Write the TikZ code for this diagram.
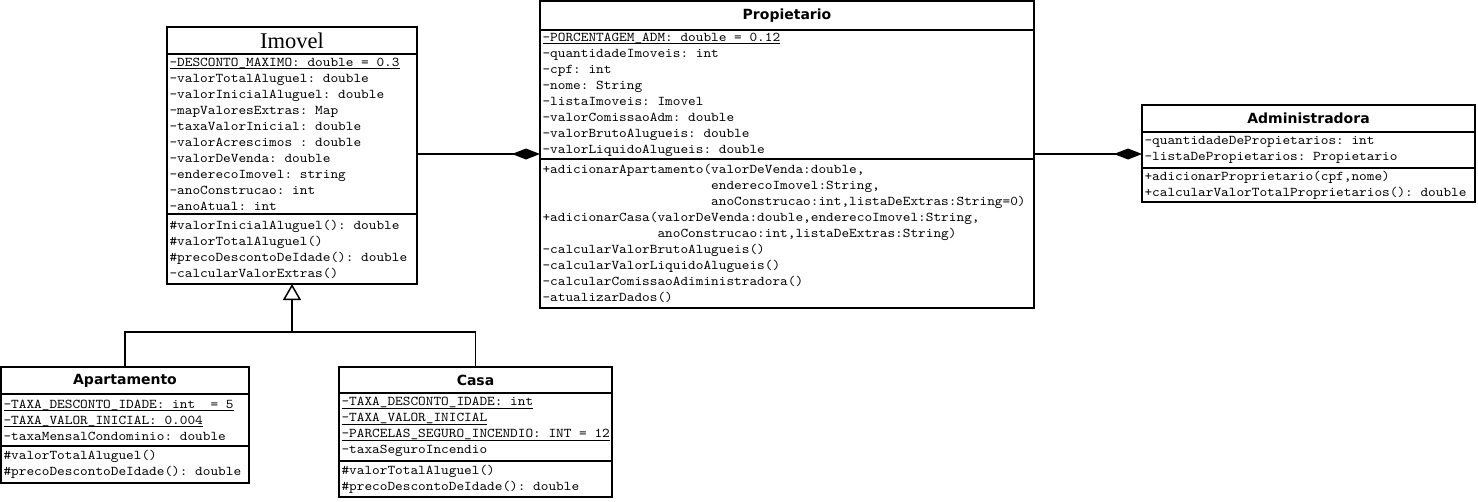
\documentclass[tikz,border=0pt]{standalone}
\usepackage{fontspec}
\setmainfont{Liberation Serif}
\setmonofont{lmmono10-regular}[Extension=.otf, FakeStretch=1.09]
\newfontfamily\headfont{DejaVu Sans}
\usetikzlibrary{positioning,arrows.meta}
\newcommand\codefont{\ttfamily\fontsize{13.4}{16}\selectfont\frenchspacing}
\newcommand\monospaced{\codefont\spaceskip=\fontcharwd\font`\a\relax\xspaceskip=\spaceskip}
\newcommand\classvar[1]{\leavevmode\setbox0=\hbox{#1}\rlap{\rule[-3pt]{\wd0}{0.8pt}}\box0}
\begin{document}
\begin{tikzpicture}[
  x=1pt, y=-1pt,
  line width=1.5pt,
  every node/.style={outer sep=0pt},
  classname/.style={
    draw,
    anchor=north west,
    align=center,
    inner sep=0pt,
    font=\headfont\bfseries\fontsize{14}{16}\selectfont
  },
  members/.style={
    draw,
    align=left,
    inner xsep=2.5pt,
    inner ysep=0pt,
    font=\codefont,
    execute at begin node=\monospaced
  },
  compose/.style={-{Diamond[length=28pt,width=11pt]}},
  inherit/.style={-{Triangle[open,length=16pt,width=18pt,fill=white]}}
]
\useasboundingbox (0,0) rectangle (1478,501);

\node[classname, minimum width=250pt, minimum height=27pt,
  font=\rmfamily\fontsize{22.5}{24}\selectfont] (imovel) at (167,27) {Imovel};
\node[members, text width=245pt, minimum height=160pt, below=0pt of imovel] (imovel-attr) {%
  \classvar{-DESCONTO\_MAXIMO: double = 0.3}\\
  -valorTotalAluguel: double\\
  -valorInicialAluguel: double\\
  -mapValoresExtras: Map\\
  -taxaValorInicial: double\\
  -valorAcrescimos : double\\
  -valorDeVenda: double\\
  -enderecoImovel: string\\
  -anoConstrucao: int\\
  -anoAtual: int};
\node[members, text width=245pt, minimum height=70pt, below=0pt of imovel-attr] (imovel-ops) {%
  \#valorInicialAluguel(): double\\
  \#valorTotalAluguel()\\
  \#precoDescontoDeIdade(): double\\
  -calcularValorExtras()};

\node[classname, minimum width=494pt, minimum height=29pt] (prop) at (540,1) {Propietario};
\node[members, text width=489pt, minimum height=129pt, below=0pt of prop] (prop-attr) {%
  \classvar{-PORCENTAGEM\_ADM: double = 0.12}\\
  -quantidadeImoveis: int\\
  -cpf: int\\
  -nome: String\\
  -listaImoveis: Imovel\\
  -valorComissaoAdm: double\\
  -valorBrutoAlugueis: double\\
  -valorLiquidoAlugueis: double};
\node[members, text width=489pt, minimum height=149pt, below=0pt of prop-attr] (prop-ops) {%
  +adicionarApartamento(valorDeVenda:double,\\
  \hphantom{+adicionarApartamento(}enderecoImovel:String,\\
  \hphantom{+adicionarApartamento(}anoConstrucao:int,listaDeExtras:String=0)\\
  +adicionarCasa(valorDeVenda:double,enderecoImovel:String,\\
  \hphantom{+adicionarCasa(}anoConstrucao:int,listaDeExtras:String)\\
  -calcularValorBrutoAlugueis()\\
  -calcularValorLiquidoAlugueis()\\
  -calcularComissaoAdiministradora()\\
  -atualizarDados()};

\node[classname, minimum width=333pt, minimum height=27pt] (admin) at (1142,105) {Administradora};
\node[members, text width=328pt, minimum height=36pt, below=0pt of admin] (admin-attr) {%
  -quantidadeDePropietarios: int\\
  -listaDePropietarios: Propietario};
\node[members, text width=328pt, minimum height=34pt, below=0pt of admin-attr] (admin-ops) {%
  +adicionarProprietario(cpf,nome)\\
  +calcularValorTotalProprietarios(): double};

\node[classname, minimum width=248pt, minimum height=27pt] (apto) at (1,367) {Apartamento};
\node[members, text width=243pt, minimum height=52pt, below=0pt of apto] (apto-attr) {%
  \classvar{-TAXA\_DESCONTO\_IDADE: int\ \ = 5}\\
  \classvar{-TAXA\_VALOR\_INICIAL: 0.004}\\
  -taxaMensalCondominio: double};
\node[members, text width=243pt, minimum height=37pt, below=0pt of apto-attr] (apto-ops) {%
  \#valorTotalAluguel()\\
  \#precoDescontoDeIdade(): double};

\node[classname, minimum width=273pt, minimum height=26pt] (casa) at (339,367) {Casa};
\node[members, text width=268pt, minimum height=68pt, below=0pt of casa] (casa-attr) {%
  \classvar{-TAXA\_DESCONTO\_IDADE: int}\\
  \classvar{-TAXA\_VALOR\_INICIAL}\\
  \classvar{-PARCELAS\_SEGURO\_INCENDIO: INT = 12}\\
  -taxaSeguroIncendio};
\node[members, text width=268pt, minimum height=36pt, below=0pt of casa-attr] (casa-ops) {%
  \#valorTotalAluguel()\\
  \#precoDescontoDeIdade(): double};

\coordinate (link) at (0,154);
\draw[compose] (imovel-attr.east |- link) -- (prop-attr.west |- link);
\draw[compose] (prop-attr.east |- link) -- (admin-attr.west |- link);

\coordinate (fork) at ([yshift=-48pt]imovel-ops.south);
\draw (apto.north) |- (fork) -| (casa.north);
\draw[inherit] (fork) -- (imovel-ops.south);
\end{tikzpicture}
\end{document}
